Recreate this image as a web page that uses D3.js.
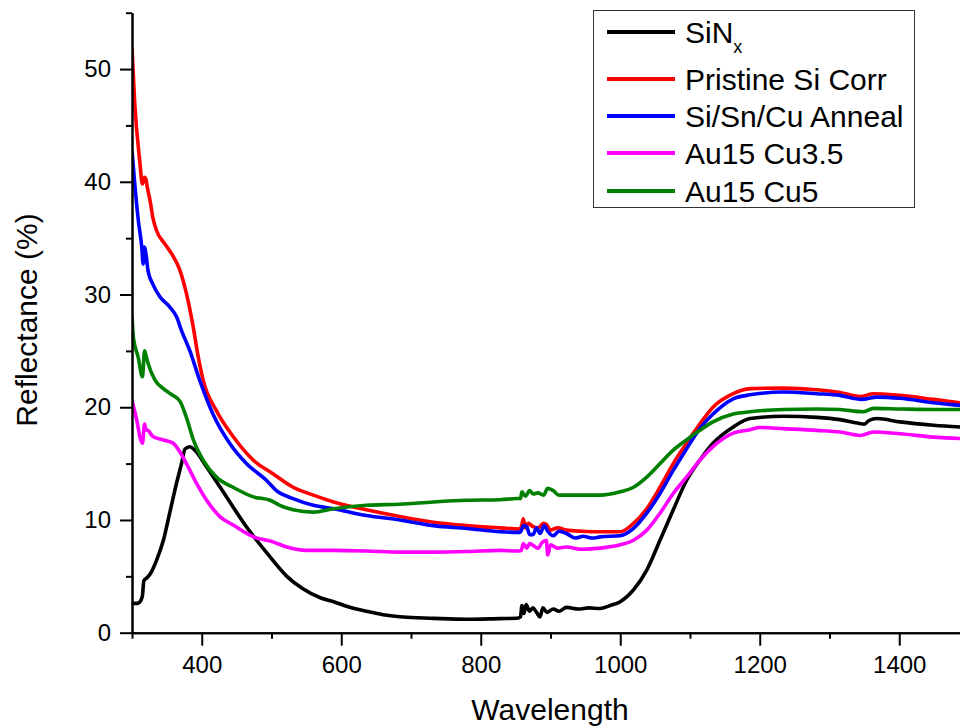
<!DOCTYPE html>
<html>
<head>
    <meta charset="UTF-8">
    <title>Reflectance</title>
    <script src="https://cdn.jsdelivr.net/npm/d3@7"></script>
    <style>
        body { margin: 0; background: #fff; }
        text { font-family: "Liberation Sans", Arial, sans-serif; fill: #000; }
    </style>
</head>
<body>
<script>

    // data: [wavelength, reflectance %]
    var sinx = [[300,2.6],[308,2.6],[313,2.9],[315,3.3],[317,4.6],[322,4.9],[326,5.2],[335,6.4],[345,8.2],[354,10.6],[364,13.3],[371,15.0],[376,16.3],[383,16.5],[390,16.2],[407,14.7],[436,12.0],[464,9.4],[493,7.1],[522,5.0],[545,3.9],[570,3.1],[589,2.75],[610,2.3],[636,1.9],[660,1.6],[684,1.42],[710,1.32],[732,1.27],[780,1.19],[828,1.25],[852,1.28],[857,1.4],[859,2.4],[862,1.7],[865,2.5],[870,1.9],[875,2.2],[880,1.8],[885,1.4],[889,2.2],[895,1.8],[904,2.1],[912,1.9],[923,2.25],[940,2.1],[955,2.2],[971,2.15],[985,2.4],[1000,2.75],[1019,3.8],[1038,5.55],[1057,8.2],[1076,10.9],[1095,13.5],[1114,15.3],[1133,16.8],[1162,18.25],[1186,19.0],[1234,19.2],[1282,19.1],[1315,18.9],[1340,18.6],[1350,18.5],[1356,18.8],[1368,19.0],[1401,18.7],[1449,18.4],[1500,18.2]];

    var pristine = [[300,51.9],[304,46.9],[311,41.9],[315,39.8],[318,40.4],[320,40.2],[322,39.5],[326,38.3],[330,36.8],[335,35.7],[347,34.5],[357,33.6],[369,32.1],[378,30.1],[387,27.4],[394,24.8],[402,22.4],[421,19.7],[445,17.4],[474,15.3],[502,14.1],[531,12.9],[560,12.2],[589,11.6],[636,10.9],[684,10.3],[732,9.8],[780,9.5],[828,9.3],[856,9.2],[859,9.6],[861,10.1],[864,9.3],[868,9.7],[875,9.4],[882,9.3],[890,9.7],[894,9.6],[900,9.1],[910,9.3],[923,9.1],[945,9.0],[971,8.95],[1000,8.95],[1019,9.7],[1038,11.0],[1057,12.9],[1076,15.0],[1095,16.8],[1114,18.5],[1133,20.0],[1162,21.2],[1186,21.65],[1234,21.7],[1282,21.55],[1315,21.3],[1344,20.95],[1363,21.2],[1401,21.05],[1449,20.7],[1500,20.3]];

    var anneal = [[300,42.75],[304,39.8],[309,36.6],[314,34.2],[316,32.7],[318,34.2],[320,33.6],[323,32.1],[330,30.9],[340,29.8],[354,28.9],[364,28.0],[371,26.8],[383,25.0],[397,22.4],[416,19.4],[440,16.8],[464,15.0],[493,13.5],[507,12.6],[531,11.9],[560,11.3],[589,11.0],[636,10.4],[684,10.0],[732,9.5],[780,9.25],[828,8.95],[856,8.9],[862,9.5],[866,9.4],[870,8.7],[875,8.7],[880,9.3],[885,8.8],[891,9.5],[896,9.0],[904,8.6],[912,9.0],[923,8.8],[935,8.4],[947,8.55],[960,8.4],[971,8.5],[1000,8.6],[1019,9.25],[1038,10.6],[1057,12.35],[1076,14.4],[1095,16.3],[1114,18.1],[1133,19.4],[1162,20.75],[1186,21.1],[1234,21.35],[1282,21.2],[1315,21.05],[1346,20.7],[1368,20.9],[1401,20.8],[1449,20.4],[1500,20.1]];

    var au15cu35 = [[300,20.6],[307,18.8],[312,17.2],[315,16.8],[318,18.5],[320,18.0],[323,17.95],[330,17.4],[345,17.1],[359,16.8],[369,16.0],[378,15.0],[393,13.2],[407,11.75],[426,10.3],[445,9.55],[474,8.5],[502,8.06],[522,7.6],[550,7.3],[589,7.3],[636,7.25],[684,7.15],[732,7.15],[780,7.2],[828,7.3],[852,7.25],[858,7.3],[861,7.9],[866,7.5],[870,7.9],[875,7.75],[882,7.5],[888,8.0],[894,8.2],[896,6.9],[900,7.8],[910,7.5],[923,7.6],[945,7.4],[971,7.5],[1000,7.8],[1019,8.2],[1038,9.1],[1057,10.6],[1076,12.35],[1095,13.8],[1114,15.3],[1133,16.5],[1162,17.7],[1186,18.0],[1200,18.2],[1234,18.1],[1282,17.95],[1315,17.8],[1344,17.5],[1363,17.8],[1401,17.65],[1449,17.35],[1500,17.2]];

    var au15cu5 = [[300,28.1],[302,26.2],[309,24.4],[315,22.7],[318,25.0],[320,24.6],[323,23.9],[333,22.4],[345,21.65],[355,21.2],[369,20.5],[378,19.1],[388,17.1],[402,15.3],[421,13.8],[445,12.9],[474,12.05],[498,11.75],[512,11.3],[531,10.9],[560,10.7],[589,11.0],[636,11.3],[684,11.4],[732,11.6],[780,11.75],[828,11.8],[852,11.9],[857,11.9],[859,12.5],[864,12.1],[870,12.6],[875,12.3],[882,12.4],[890,12.2],[896,12.8],[904,12.6],[912,12.2],[923,12.2],[945,12.2],[971,12.2],[1000,12.5],[1019,12.9],[1038,13.8],[1057,15.0],[1076,16.2],[1095,17.1],[1114,17.95],[1133,18.7],[1162,19.4],[1186,19.6],[1234,19.8],[1282,19.85],[1315,19.8],[1348,19.6],[1363,19.9],[1401,19.85],[1449,19.8],[1500,19.8]];

    var seriesNames = ["SiN", "Pristine Si Corr", "Si/Sn/Cu Anneal", "Au15 Cu3.5", "Au15 Cu5"];
    var seriesColors = ["#000000", "#ff0000", "#0000ff", "#ff00ff", "#008000"];
    var seriesData = [sinx, pristine, anneal, au15cu35, au15cu5];

    var xMajor = [400, 600, 800, 1000, 1200, 1400];
    var xMinor = [300, 500, 700, 900, 1100, 1300, 1500];
    var yMajor = [0, 10, 20, 30, 40, 50];
    var yMinor = [5, 15, 25, 35, 45, 55];

    var width = 960,
        height = 728;

    var svg = d3.select("body").append("svg")
        .attr("width", width)
        .attr("height", height);

    // plot area (runs a bit past the right edge, like the reference)
    var x = d3.scaleLinear().domain([300, 1500]).range([132, 969]);
    var y = d3.scaleLinear().domain([0, 55]).range([632.7, 12.7]);

    svg.append("clipPath").attr("id", "plot-clip")
        .append("rect")
        .attr("x", 132).attr("y", 0)
        .attr("width", 837).attr("height", 634);

    var line = d3.line()
        .x(function(d) { return x(d[0]); })
        .y(function(d) { return y(d[1]); })
        .curve(d3.curveMonotoneX);

    var lines = svg.append("g").attr("clip-path", "url(#plot-clip)");
    seriesData.forEach(function(s, i) {
        lines.append("path")
            .datum(s)
            .attr("d", line)
            .attr("fill", "none")
            .attr("stroke", seriesColors[i])
            .attr("stroke-width", 3.6)
            .attr("stroke-linejoin", "round");
    });

    // axes
    svg.append("g")
        .attr("transform", "translate(0," + y(0) + ")")
        .call(d3.axisBottom(x).tickValues(xMajor).tickFormat(d3.format("d"))
            .tickSize(13).tickPadding(10).tickSizeOuter(0));
    svg.append("g")
        .attr("transform", "translate(0," + y(0) + ")")
        .call(d3.axisBottom(x).tickValues(xMinor).tickSize(6).tickFormat("").tickSizeOuter(0));

    svg.append("g")
        .attr("transform", "translate(" + x(300) + ",0)")
        .call(d3.axisLeft(y).tickValues(yMajor).tickFormat(d3.format("d"))
            .tickSize(12).tickPadding(9).tickSizeOuter(0));
    svg.append("g")
        .attr("transform", "translate(" + x(300) + ",0)")
        .call(d3.axisLeft(y).tickValues(yMinor).tickSize(6).tickFormat("").tickSizeOuter(0));

    svg.selectAll(".domain, .tick line")
        .attr("stroke", "#000")
        .attr("stroke-width", 2);
    svg.selectAll(".tick text")
        .style("font-size", "24px")
        .style("font-family", "'Liberation Sans', Arial, sans-serif")
        .attr("fill", "#000");

    // axis titles
    svg.append("text")
        .attr("x", 550)
        .attr("y", 720)
        .attr("text-anchor", "middle")
        .style("font-size", "30px")
        .text("Wavelength");

    svg.append("text")
        .attr("transform", "translate(37,320) rotate(-90)")
        .attr("text-anchor", "middle")
        .style("font-size", "30px")
        .text("Reflectance (%)");

    // legend
    var legend = svg.append("g");
    legend.append("rect")
        .attr("x", 593.5).attr("y", 10.5)
        .attr("width", 321).attr("height", 197)
        .attr("fill", "#fff")
        .attr("stroke", "#333")
        .attr("stroke-width", 1);

    var rowY = [32, 79, 116, 153, 191];
    seriesNames.forEach(function(name, i) {
        legend.append("line")
            .attr("x1", 607).attr("x2", 675)
            .attr("y1", rowY[i]).attr("y2", rowY[i])
            .attr("stroke", seriesColors[i])
            .attr("stroke-width", 4);
        var t = legend.append("text")
            .attr("x", 685)
            .attr("y", rowY[i] + 11)
            .style("font-size", "30px")
            .text(name);
        if (i === 0) {
            t.append("tspan")
                .attr("dy", 10)
                .style("font-size", "18px")
                .text("x");
        }
    });

</script>
</body>
</html>
